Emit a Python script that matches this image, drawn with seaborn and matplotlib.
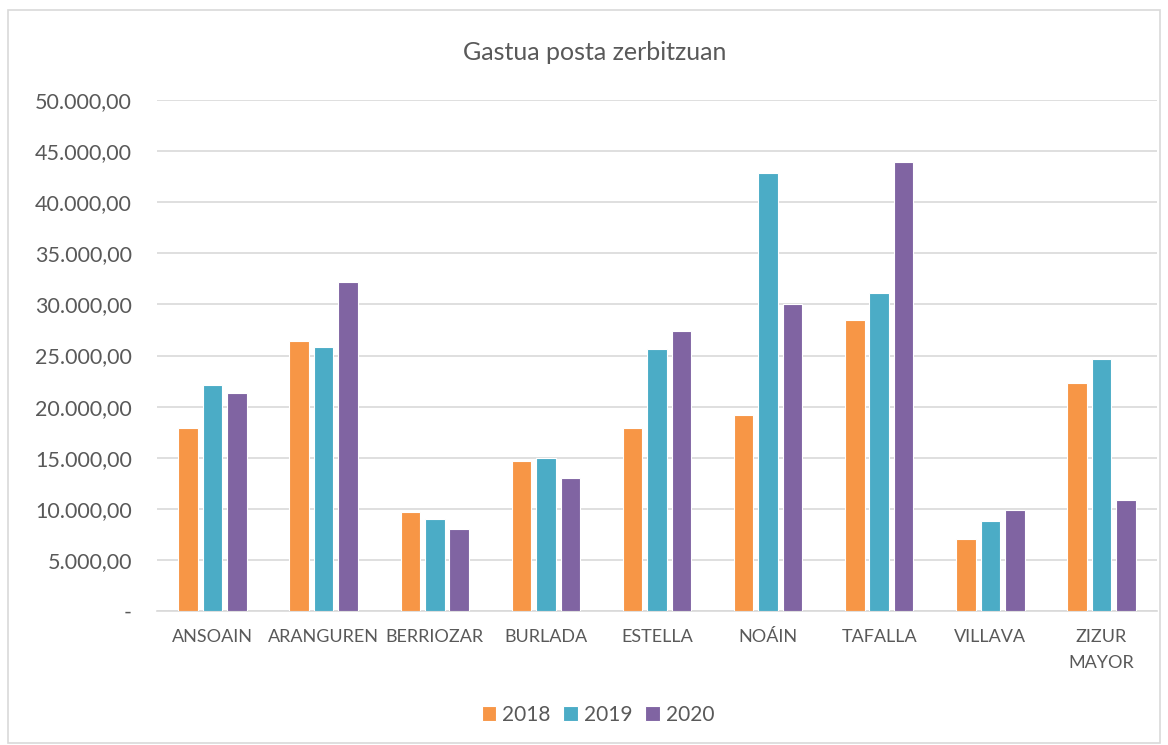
import pandas as pd
import matplotlib
matplotlib.use('Agg')
import matplotlib.pyplot as plt
import seaborn as sns
from matplotlib.ticker import FuncFormatter
from matplotlib.patches import Rectangle

# values
herriak = ['ANSOAIN', 'ARANGUREN', 'BERRIOZAR', 'BURLADA', 'ESTELLA',
           'NOÁIN', 'TAFALLA', 'VILLAVA', 'ZIZUR\nMAYOR']
urteak = ['2018', '2019', '2020']
gastua_2018 = [17900, 26450, 9720, 14710, 17950, 19190, 28490, 7080, 22320]
gastua_2019 = [22120, 25870, 9000, 15010, 25650, 42880, 31100, 8810, 24670]
gastua_2020 = [21340, 32220, 8030, 13020, 27420, 30060, 43900, 9860, 10840]
koloreak = ['#F79646', '#4BACC6', '#8064A2']

data = pd.DataFrame({
    'herria': herriak * 3,
    'urtea': [u for u in urteak for _ in herriak],
    'gastua': gastua_2018 + gastua_2019 + gastua_2020,
})

sns.set_style('white')
plt.rcParams['font.family'] = ['Lato', 'DejaVu Sans']
gris = '#595959'

fig = plt.figure(figsize=(11.68, 7.45), dpi=100)
ax = fig.add_axes([157 / 1168, 1 - 611 / 745, 1000 / 1168, 511 / 745])

sns.barplot(data=data, x='herria', y='gastua', hue='urtea', palette=koloreak,
            saturation=1, width=0.66, gap=0.2, edgecolor='white', linewidth=0.8,
            errorbar=None, ax=ax, zorder=3)

ax.set_ylim(0, 50000)
ax.set_yticks(range(0, 50001, 5000))


def euro(v, pos):
    if v == 0:
        return '-'
    return f'{v:,.2f}'.replace(',', 'X').replace('.', ',').replace('X', '.')


ax.yaxis.set_major_formatter(FuncFormatter(euro))
ax.grid(axis='y', color='#D9D9D9', linewidth=1.2, zorder=0)
ax.set_axisbelow(True)
for s in ['top', 'right', 'left']:
    ax.spines[s].set_visible(False)
ax.spines['bottom'].set_color('#D9D9D9')
ax.spines['bottom'].set_linewidth(1.2)
ax.set_xlabel('')
ax.set_ylabel('')
ax.tick_params(axis='y', labelsize=15.5, colors=gris, length=0, pad=18)
ax.tick_params(axis='x', labelsize=13, colors=gris, length=0, pad=13)
for lbl in ax.get_xticklabels():
    lbl.set_linespacing(1.75)
ax.set_xlim(-0.5, len(herriak) - 0.5)

fig.text(595 / 1168, 1 - 52 / 745, 'Gastua posta zerbitzuan', ha='center',
         va='center', fontsize=18, color=gris)

ax.legend(loc='center', bbox_to_anchor=(598 / 1168, 1 - 715 / 745),
          bbox_transform=fig.transFigure, ncol=3, frameon=False,
          fontsize=15, labelcolor=gris, handlelength=0.7, handleheight=0.7,
          handletextpad=0.3, columnspacing=0.6)

fig.patches.append(Rectangle((8 / 1168, 0.003), 1152 / 1168, 1 - 10 / 745 - 0.003,
                             transform=fig.transFigure, fill=False,
                             edgecolor='#D9D9D9', linewidth=1.2))

fig.savefig('out.png', dpi=100)
